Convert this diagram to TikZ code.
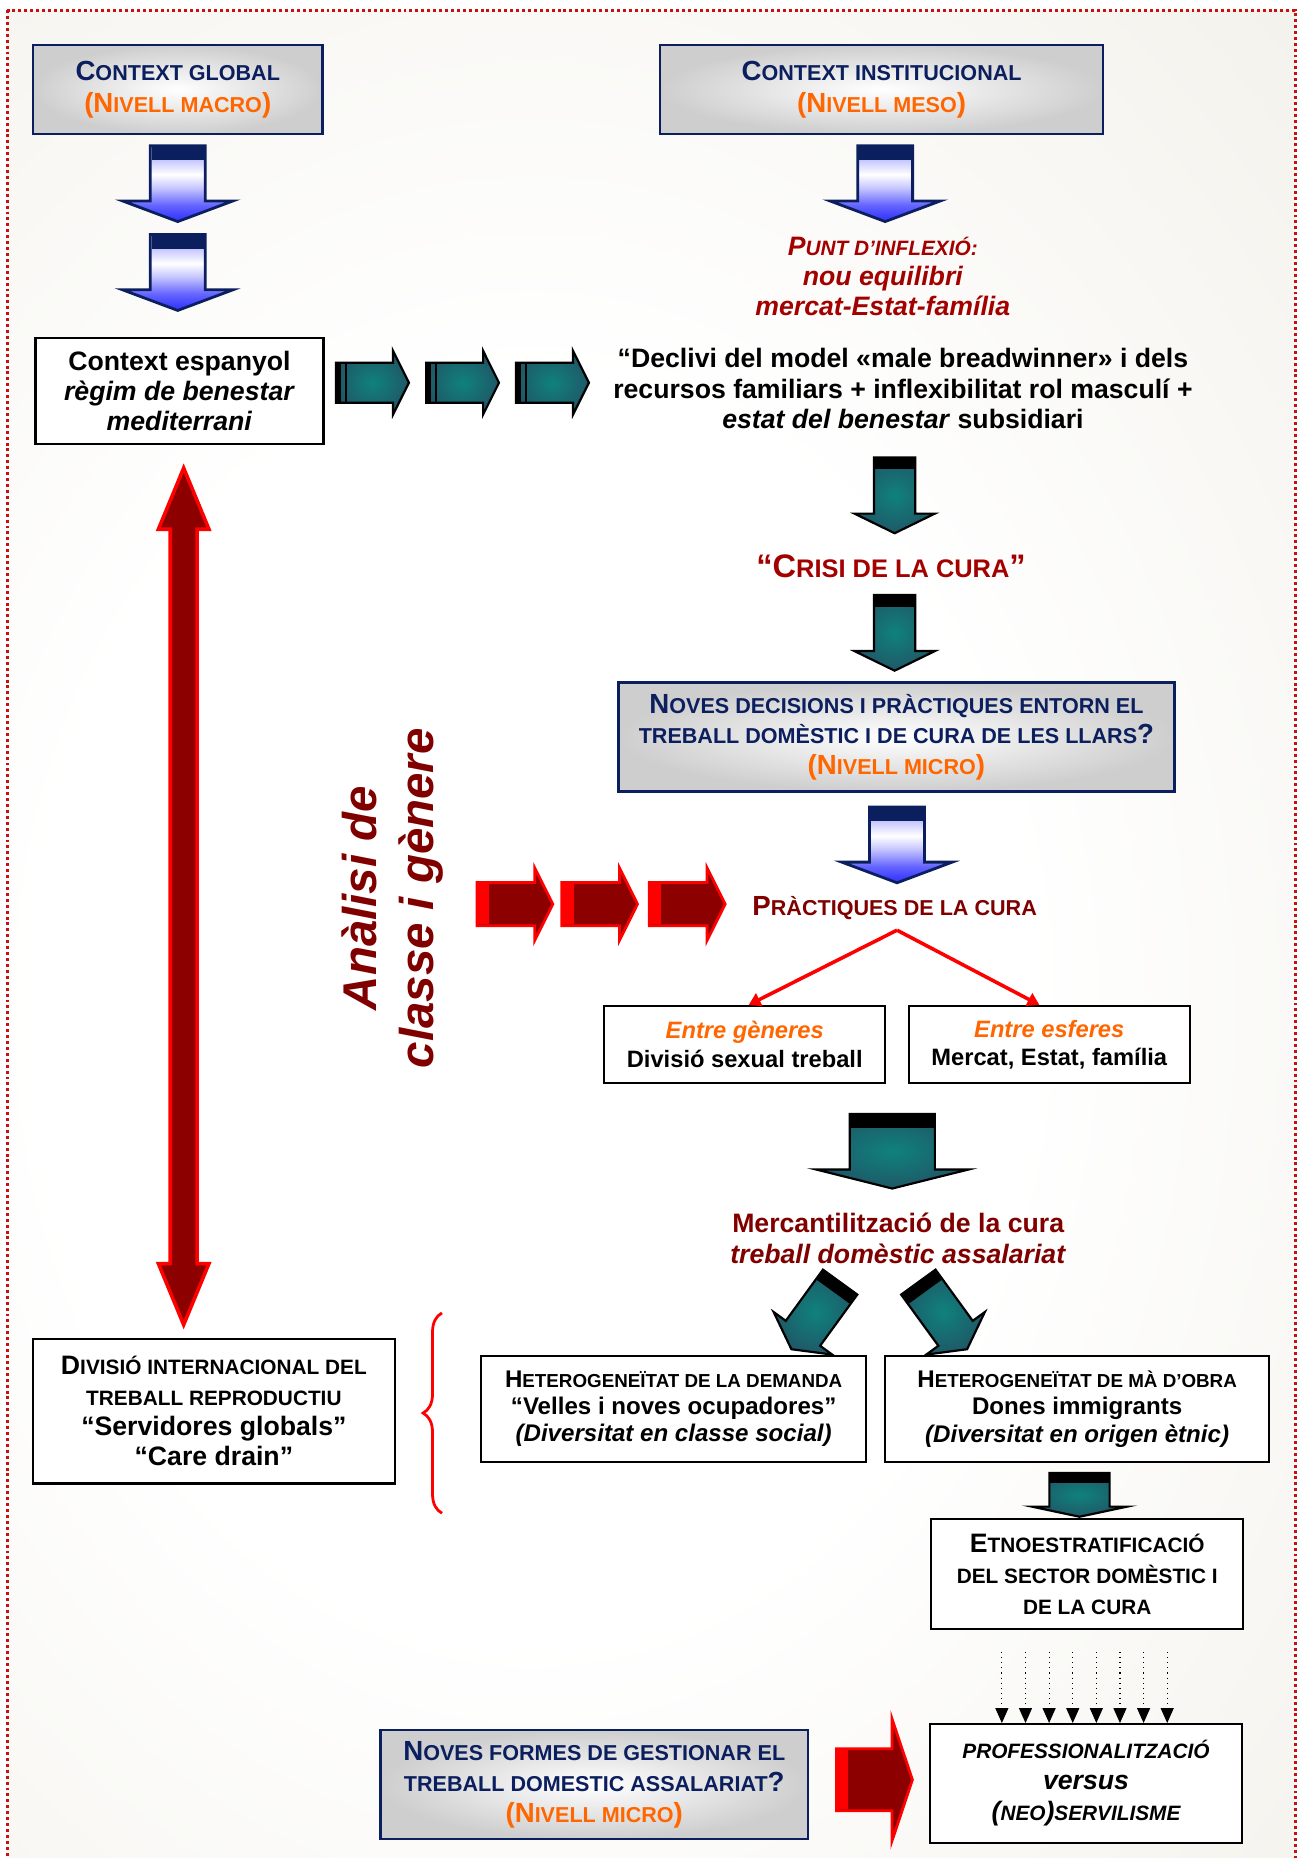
\documentclass[tikz,border=0pt]{standalone}
\usepackage{fontspec}
\setmainfont{Liberation Sans}
\usetikzlibrary{positioning,arrows.meta,shapes.arrows,calc,decorations.pathreplacing}

\definecolor{navyc}{HTML}{0B1F5E}
\definecolor{orangec}{HTML}{FF6600}
\definecolor{crimsonc}{HTML}{A30000}
\definecolor{maroonc}{HTML}{800000}
\definecolor{boxgrey}{HTML}{CECECE}
\definecolor{paperc}{HTML}{ECE9DF}
\definecolor{tealc}{HTML}{0F827C}
\definecolor{tealdark}{HTML}{1F5868}
\definecolor{bluec}{HTML}{3C3CFF}
\definecolor{lavender}{HTML}{C4C4FF}
\definecolor{redfill}{HTML}{8C0000}
\definecolor{redline}{HTML}{FF0000}
\definecolor{framec}{HTML}{C81010}

\pgfdeclareradialshading{paper}{\pgfpoint{0bp}{0bp}}{color(0bp)=(white); color(14bp)=(white); color(42bp)=(paperc); color(100bp)=(paperc)}
% deep blue at the bottom (head), white in the middle, light at the top (tail)
\pgfdeclareverticalshading{bluearrowshade}{100bp}{color(0bp)=(bluec); color(28bp)=(bluec); color(36bp)=(blue!60!white); color(47bp)=(lavender); color(56bp)=(white); color(66bp)=(lavender); color(100bp)=(lavender)}

\makeatletter
% fake small caps: first letter full size, the rest smaller
\newcommand\capsc[2]{#1{\fontsize{\fpeval{0.78*\f@size}}{\f@baselineskip}\selectfont #2}}
\makeatother
\newcommand\fsz[2]{\fontsize{#1}{#2}\selectfont}

% dark band across the tail of an arrow node: node, from, to, half width, colour
\newcommand\tailband[5]{%
  \fill[#5] ($($(#1.tail)!#2!(#1.tip)$)!#4!90:(#1.tip)$)
    -- ($($(#1.tail)!#3!(#1.tip)$)!#4!90:(#1.tip)$)
    -- ($($(#1.tail)!#3!(#1.tip)$)!#4!-90:(#1.tip)$)
    -- ($($(#1.tail)!#2!(#1.tip)$)!#4!-90:(#1.tip)$) -- cycle;}

\tikzset{
  levelbox/.style={draw=navyc, line width=1.3pt, inner color=white, outer color=boxgrey,
    text=navyc, align=center, inner sep=2pt},
  plainbox/.style={draw=black, line width=1.1pt, fill=white, align=center, inner sep=2pt},
  blockarrow/.style={single arrow, anchor=tail, inner xsep=0pt, outer sep=0pt, minimum width=0pt},
  arrowsize/.style n args={4}{minimum height=#1, inner ysep=#2,
    single arrow head extend=#3, single arrow tip angle=#4},
  bluearrow/.style={blockarrow, draw=navyc, line width=1.4pt, shading=bluearrowshade,
    arrowsize={38.4pt}{13.2pt}{14.1pt}{139}},
  tealarrow/.style={blockarrow, draw=black, line width=1.1pt, inner color=tealc, outer color=tealdark},
  redarrow/.style={blockarrow, draw=redline, line width=1.4pt, fill=redfill},
  branch/.style={draw=redline, line width=1.8pt, -{Triangle[length=6pt,width=7pt]}},
  droparrow/.style={draw=black, line width=0.6pt, dotted, -{Triangle[length=7.6pt,width=6.6pt]}}
}

\begin{document}
\begin{tikzpicture}[x=0.6pt, y=-0.6pt]
\useasboundingbox (0,0) rectangle (1094,1568);

% paper and dotted frame
\begin{scope}
  \clip (6,8.5) rectangle (1093,1575);
  \shade[shading=paper] (-300,-100) rectangle (1200,1800);
\end{scope}
\draw[framec, line width=1.5pt, dash pattern=on 1.5pt off 1.5pt] (6,8.5) rectangle (1093,1575);

% contexts
\node[levelbox, minimum width=146.4pt, minimum height=45pt, font=\fsz{14}{16.2}\bfseries] (global) at (150,75.5)
  {\capsc{C}{ONTEXT GLOBAL}\\{\color{orangec}(\capsc{N}{IVELL MACRO})}};
\node[levelbox, minimum width=224.4pt, minimum height=45pt, font=\fsz{14}{16.2}\bfseries] (institutional) at (744,75.5)
  {\capsc{C}{ONTEXT INSTITUCIONAL}\\{\color{orangec}(\capsc{N}{IVELL MESO})}};

\node[bluearrow, rotate=-90] (macro1) at (150,123) {};
\node[bluearrow, rotate=-90] (macro2) at (150,198) {};
\node[bluearrow, rotate=-90] (meso) at (747,123) {};

\node[text=crimsonc, font=\fsz{13.5}{15.3}\bfseries\itshape, align=center] (turn) at (745,233.5)
  {\capsc{P}{UNT D’INFLEXIÓ:}\\nou equilibri\\mercat-Estat-família};

\node[plainbox, minimum width=145.8pt, minimum height=54pt, font=\fsz{13.5}{15.3}\bfseries] (spain) at (151.5,330)
  {Context espanyol\\\textit{règim de benestar}\\\textit{mediterrani}};

\foreach \x/\n in {283.6/1, 359.6/2, 435.5/3}
  \node[tealarrow, arrowsize={36.9pt}{9.6pt}{6pt}{127}] (right\n) at (\x,323) {};

\node[font=\fsz{13.5}{15.3}\bfseries, align=center] (decline) at (762,328)
  {“Declivi del model «male breadwinner» i dels\\recursos familiars + inflexibilitat rol masculí +\\\textit{estat del benestar} subsidiari};

\node[tealarrow, rotate=-90, arrowsize={38.4pt}{9.9pt}{9.9pt}{128}] (down1) at (755,386) {};
\node[text=crimsonc, font=\fsz{16.5}{19}\bfseries] (crisis) at (752,478) {“\capsc{C}{RISI DE LA CURA}”};
\node[tealarrow, rotate=-90, arrowsize={38.4pt}{9.9pt}{9.9pt}{128}] (down2) at (755,502) {};

\node[levelbox, minimum width=281.4pt, minimum height=55.2pt, font=\fsz{14}{15.4}\bfseries] (decisions) at (756.5,622)
  {\capsc{N}{OVES DECISIONS I PRÀCTIQUES ENTORN EL}\\\capsc{}{TREBALL DOMÈSTIC I DE CURA DE LES LLARS}?\\{\color{orangec}(\capsc{N}{IVELL MICRO})}};
\node[bluearrow, rotate=-90] (micro) at (757,681) {};

% class and gender
\node[double arrow, rotate=90, draw=redline, line width=1.8pt, fill=redfill, inner xsep=0pt, inner ysep=5.9pt,
  outer sep=0pt, minimum height=433.8pt, double arrow head extend=6pt, double arrow tip angle=44.9] (span) at (155,756.5) {};
\node[rotate=90, text=maroonc, font=\fsz{24}{28.8}\bfseries\itshape, align=center] (analysis) at (331,758)
  {Anàlisi de\\classe i gènere};

\foreach \x/\n in {402.5/1, 474/2, 548/3}
  \node[redarrow, arrowsize={38.4pt}{10.2pt}{7.5pt}{127}] (red\n) at (\x,763) {};

\node[text=maroonc, font=\fsz{14}{16}\bfseries] (practices) at (755,766) {\capsc{P}{RÀCTIQUES DE LA CURA}};
\coordinate (fork) at (757,785);

\node[plainbox, minimum width=142.2pt, minimum height=39pt, font=\fsz{12}{14.4}\bfseries] (genders) at (628.5,881.5)
  {{\color{orangec}\itshape Entre gèneres}\\Divisió sexual treball};
\node[plainbox, minimum width=142.2pt, minimum height=39pt, font=\fsz{12}{14.4}\bfseries] (spheres) at (885.5,881.5)
  {{\color{orangec}\itshape Entre esferes}\\Mercat, Estat, família};
\draw[branch] (fork) -- ([xshift=2pt]genders.north);
\draw[branch] (fork) -- ([xshift=-5pt]spheres.north);

\node[tealarrow, rotate=-90, arrowsize={37.8pt}{21pt}{17.1pt}{152}] (bigdown) at (753,940) {};
\node[text=maroonc, font=\fsz{13.5}{15.6}\bfseries, align=center] (market) at (758,1045)
  {Mercantilització de la cura\\\textit{treball domèstic assalariat}};
\node[tealarrow, rotate=-126, arrowsize={42pt}{10.2pt}{7.6pt}{123}] (toleft) at (709,1082) {};
\node[tealarrow, rotate=-54, arrowsize={42pt}{10.2pt}{7.6pt}{123}] (toright) at (775,1082) {};

% heterogeneity
\node[plainbox, minimum width=183pt, minimum height=73.2pt, font=\fsz{13.5}{15.4}\bfseries] (division) at (180.5,1191)
  {\capsc{D}{IVISIÓ INTERNACIONAL DEL}\\\capsc{}{TREBALL REPRODUCTIU}\\“Servidores globals”\\“Care drain”};
\draw[redline, line width=1.4pt, decorate, decoration={brace, amplitude=9.6pt}] (373,1277) -- (373,1108);

\node[plainbox, minimum width=195pt, minimum height=54pt, font=\fsz{12.2}{13.8}\bfseries] (demand) at (568.5,1189)
  {\capsc{H}{ETEROGENEÏTAT DE LA DEMANDA}\\“Velles i noves ocupadores”\\\textit{(Diversitat en classe social)}};
\node[plainbox, minimum width=194.4pt, minimum height=54pt, font=\fsz{12.2}{13.8}\bfseries] (labour) at (909,1189)
  {\capsc{H}{ETEROGENEÏTAT DE MÀ D’OBRA}\\Dones immigrants\\\textit{(Diversitat en origen ètnic)}};

\node[tealarrow, rotate=-90, arrowsize={22.2pt}{14.7pt}{8.8pt}{156}] (toethno) at (911,1243) {};
\node[plainbox, minimum width=157.8pt, minimum height=55.8pt, font=\fsz{13.5}{15.6}\bfseries] (ethno) at (917.5,1328.5)
  {\capsc{E}{TNOESTRATIFICACIÓ}\\\capsc{}{DEL SECTOR DOMÈSTIC I}\\\capsc{}{DE LA CURA}};

\node[plainbox, minimum width=157.8pt, minimum height=60pt, font=\fsz{13.5}{15.6}\bfseries\itshape] (professional) at (916.5,1505)
  {\capsc{}{PROFESSIONALITZACIÓ}\\versus\\(\capsc{}{NEO})\capsc{}{SERVILISME}};
\foreach \i in {0,...,7}{
  \coordinate (drop\i) at (845.5+19.93*\i,1394);
  \draw[droparrow] (drop\i) -- (drop\i |- professional.north);
}

\node[levelbox, minimum width=216.6pt, minimum height=55.2pt, font=\fsz{14}{15.6}\bfseries] (forms) at (501.5,1506)
  {\capsc{N}{OVES FORMES DE GESTIONAR EL}\\\capsc{}{TREBALL DOMESTIC ASSALARIAT}?\\{\color{orangec}(\capsc{N}{IVELL MICRO})}};
\node[redarrow, arrowsize={38.4pt}{15pt}{15.3pt}{143}] (toprof) at (706,1502) {};

% tail bands
\foreach \a in {macro1, macro2, meso, micro}
  \tailband{\a}{0pt}{7.2pt}{13.2pt}{navyc};
\foreach \a in {right1, right2, right3}{
  \tailband{\a}{0pt}{2.6pt}{9.6pt}{black}
  \tailband{\a}{4.4pt}{5.4pt}{9.6pt}{black}
}
\foreach \a in {down1, down2}
  \tailband{\a}{0pt}{6pt}{9.9pt}{black};
\tailband{bigdown}{0pt}{7pt}{21pt}{black}
\tailband{toethno}{0pt}{5pt}{14.7pt}{black}
\foreach \a in {toleft, toright}
  \tailband{\a}{0pt}{6pt}{10.2pt}{black};
\foreach \a in {red1, red2, red3}
  \tailband{\a}{0pt}{6pt}{10.2pt}{redline};
\tailband{toprof}{0pt}{6pt}{15pt}{redline}
\end{tikzpicture}
\end{document}
